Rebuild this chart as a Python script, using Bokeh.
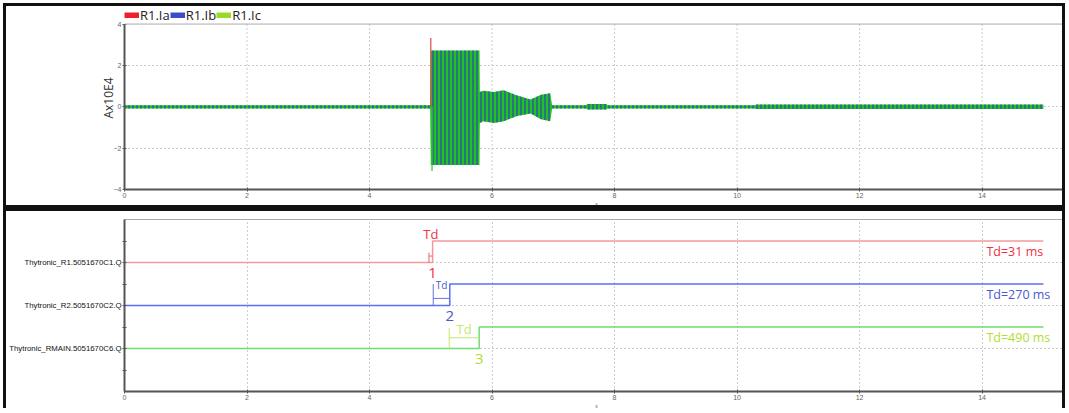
from bokeh.plotting import figure
from bokeh.models import Range1d, Legend, LegendItem, FixedTicker, Span
from bokeh.layouts import column
from bokeh.embed import file_html
from bokeh.resources import INLINE
from bokeh.core.properties import value

# ---------------- data ----------------
# top panel: envelope of the three phase currents (x10E4 A) vs time (s)
env_t  = [0.0, 4.99, 5.0, 5.795, 5.80, 5.86, 6.03, 6.19, 6.41, 6.63, 6.80, 6.95, 6.98,
          7.54, 7.55, 7.87, 7.88, 10.3, 10.31, 15.0]
env_lo = [-0.08, -0.08, -2.82, -2.82, -0.78, -0.70, -0.78, -0.70, -0.45, -0.32, -0.60, -0.70, -0.08,
          -0.08, -0.13, -0.13, -0.08, -0.08, -0.11, -0.11]
env_hi = [0.08, 0.08, 2.72, 2.72, 0.72, 0.78, 0.72, 0.80, 0.55, 0.35, 0.58, 0.65, 0.08,
          0.08, 0.13, 0.13, 0.08, 0.08, 0.11, 0.11]
spike_t = [5.0, 5.02]
spike_y = [3.33, -3.1]
spike_colors = ["#e04848", "#2ecc2e"]

legend_labels = ["R1.Ia", "R1.Ib", "R1.Ic"]
legend_colors = ["#ee2030", "#3a4ec8", "#9ad82a"]

# bottom panel: trip signals
sig_names   = ["Thytronic_R1.5051670C1.Q", "Thytronic_R2.5051670C2.Q", "Thytronic_RMAIN.5051670C6.Q"]
low_levels  = [6, 4, 2]
high_levels = [7, 5, 3]
td_start    = [4.97, 5.04, 5.30]
trip_t      = [5.03, 5.31, 5.79]
t_end       = 15.0
td_text     = ["Td=31 ms", "Td=270 ms", "Td=490 ms"]
num_text    = ["1", "2", "3"]
x_ticks     = [0, 2, 4, 6, 8, 10, 12, 14]
y_ticks_top = [-4, -2, 0, 2, 4]

# ---------------- styles ----------------
line_cols  = ["#f29a9a", "#5e6ef0", "#6ede6e"]
brack_cols = ["#f06464", "#6272e6", "#c6e86a"]
text_cols  = ["#f23040", "#4a58d2", "#b4dc36"]
td_size    = ["13px", "10px", "13px"]
td_dy      = [0.33, -0.03, -0.08]
brack_top  = [0.45, 1.0, 0.95]
brack_mid  = [0.3, 0.33, 0.5]
TICKF = "Liberation Sans"
TXTF = "Open Sans"
XMAX = 15.41
YTOP = 4.85
GRID = "#9a9a9a"
AXC = "#555555"


def style_axes(p):
    p.xaxis.ticker = FixedTicker(ticks=x_ticks, minor_ticks=[])
    for ax in (p.xaxis[0], p.yaxis[0]):
        ax.axis_line_color = AXC
        ax.axis_line_width = 2
        ax.major_tick_line_color = AXC
        ax.minor_tick_line_color = AXC
        ax.major_tick_in = 2
        ax.major_tick_out = 2
        ax.major_label_text_font = TICKF
        ax.major_label_text_font_size = "7px"
        ax.major_label_text_color = "#666666"
        ax.major_label_standoff = 1
    p.xaxis.axis_label = "s"
    p.xaxis.axis_label_text_font_size = "5px"
    p.xaxis.axis_label_text_font_style = "normal"
    p.xaxis.axis_label_text_color = "#666666"
    p.xaxis.axis_label_standoff = 0
    p.grid.grid_line_color = GRID
    p.grid.grid_line_dash = "1 3"
    p.grid.grid_line_width = 1
    p.background_fill_color = "white"
    p.border_fill_color = "white"


# ---------------- top panel ----------------
p1 = figure(width=1056, height=199, x_range=Range1d(0, XMAX), y_range=Range1d(-4, YTOP),
            output_backend="svg", toolbar_location=None,
            min_border_left=118, min_border_right=0, min_border_top=0, min_border_bottom=22)
style_axes(p1)
p1.outline_line_color = None
p1.xgrid.visible = False
p1.ygrid.ticker = FixedTicker(ticks=[-2, 0, 2], minor_ticks=[])
p1.yaxis.ticker = FixedTicker(ticks=y_ticks_top, minor_ticks=[])
p1.yaxis.bounds = (y_ticks_top[0], y_ticks_top[-1])
p1.yaxis.axis_label = "Ax10E4"
p1.yaxis.axis_label_text_font = TXTF
p1.yaxis.axis_label_text_font_size = "12px"
p1.yaxis.axis_label_text_font_style = "normal"
p1.yaxis.axis_label_text_color = "#333333"
p1.yaxis.axis_label_standoff = -6

# vertical dotted grid only inside the -4..4 box
p1.segment(x0=x_ticks[1:], y0=[y_ticks_top[0]] * (len(x_ticks) - 1),
           x1=x_ticks[1:], y1=[y_ticks_top[-1]] * (len(x_ticks) - 1),
           line_color=GRID, line_dash="1 3", line_width=1)
# top edge of the plotting box
p1.add_layout(Span(location=y_ticks_top[-1], dimension="width", line_color="#aaaaaa", line_width=1))

p1.varea(x=env_t, y1=env_lo, y2=env_hi, fill_color="#22c022",
         hatch_pattern="vertical_line", hatch_color="#2a56a8",
         hatch_scale=4, hatch_weight=1.4)
p1.segment(x0=spike_t, y0=[0] * len(spike_t), x1=spike_t, y1=spike_y,
           line_color=spike_colors, line_width=1.2)

items = []
for lab, col in zip(legend_labels, legend_colors):
    r = p1.line(x=[-10, -9], y=[0, 0], line_color=col, line_width=6)
    items.append(LegendItem(label=lab, renderers=[r]))
leg = Legend(items=items, orientation="horizontal", location="top_left",
             glyph_width=15, glyph_height=6, label_standoff=1, spacing=0,
             padding=0, margin=0, border_line_color=None, background_fill_alpha=0,
             label_text_font=TXTF, label_text_font_size="13px", label_height=11,
             label_text_color="#222222")
p1.add_layout(leg, "center")
p1.styles = {"border": "3px solid #111111", "box-sizing": "content-box"}

# ---------------- bottom panel ----------------
p2 = figure(width=1056, height=197, x_range=Range1d(0, XMAX), y_range=Range1d(0, 8),
            output_backend="svg", toolbar_location=None,
            min_border_left=118, min_border_right=0, min_border_top=8, min_border_bottom=20)
style_axes(p2)
p2.outline_line_color = "#aaaaaa"
p2.yaxis.ticker = FixedTicker(ticks=low_levels, minor_ticks=[1, 3, 5, 7])
p2.yaxis.major_label_overrides = {lv: nm for lv, nm in zip(low_levels, sig_names)}
p2.yaxis.major_label_text_font = "Liberation Sans"
p2.yaxis.major_label_text_font_size = "7.8px"
p2.yaxis.major_label_text_color = "#111111"
p2.yaxis.major_label_standoff = 1
p2.yaxis.minor_tick_in = 2
p2.yaxis.minor_tick_out = 2

for i in range(3):
    lo, hi = low_levels[i], high_levels[i]
    ts, tt = td_start[i], trip_t[i]
    # step signal
    p2.line(x=[0, tt, tt, t_end], y=[lo, lo, hi, hi], line_color=line_cols[i], line_width=1.5)
    # Td bracket
    top = lo + brack_top[i] * (hi - lo)
    mid = lo + brack_mid[i] * (hi - lo)
    p2.segment(x0=[ts, ts], y0=[lo, mid], x1=[ts, tt], y1=[top, mid],
               line_color=brack_cols[i], line_width=1)
    # labels
    p2.text(x=[(ts + tt) / 2], y=[hi + td_dy[i]], text=["Td"], text_align="center",
            text_baseline="middle", text_color=brack_cols[i] if i == 2 else text_cols[i],
            text_font=value(TXTF), text_font_size=td_size[i])
    p2.text(x=[tt], y=[lo - 0.5], text=[num_text[i]], text_align="center",
            text_baseline="middle", text_color=text_cols[i],
            text_font=value(TXTF), text_font_size="15px")
    p2.text(x=[14.07], y=[lo + 0.5], text=[td_text[i]], text_align="left",
            text_baseline="middle", text_color=text_cols[i],
            text_font=value(TXTF), text_font_size="12.5px")

p2.styles = {"border-top": "3px solid #111111", "border-left": "3px solid #111111",
             "border-right": "3px solid #111111", "box-sizing": "content-box"}

layout = column(p1, p2, spacing=0, margin=(3, 0, 0, 3))
open("out.html", "w").write(file_html(layout, INLINE))
